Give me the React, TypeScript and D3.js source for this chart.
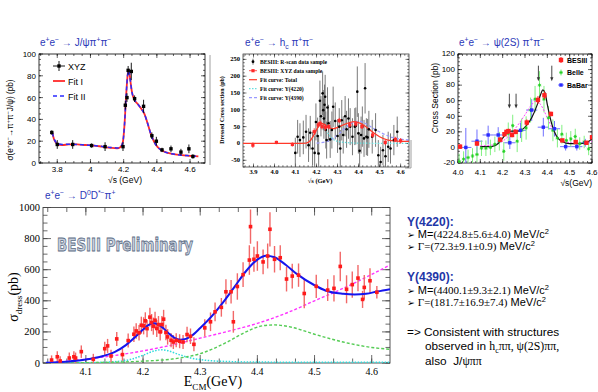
import React from "react";
import * as d3 from "d3";

const SANS = "'Liberation Sans', Arial, Helvetica, sans-serif";
const SERIF = "'Liberation Serif', 'Times New Roman', Times, serif";
const DEJA = "'DejaVu Sans', sans-serif";
const TITLE_BLUE = "#2b38b8";
const HEAD_BLUE = "#1f37a8";

// ===== Panel A: e+e- -> J/psi pi+ pi- =====
const jpsiE = [3.767, 3.800, 3.893, 4.007, 4.088, 4.196, 4.210, 4.220, 4.227, 4.246, 4.266, 4.320, 4.370, 4.397, 4.431, 4.485, 4.545, 4.593, 4.617];
const jpsiSigma = [28, 17, 17, 16, 15, 15, 53, 60, 85, 84, 59, 52, 25, 20, 12, 13, 10, 13, 6];
const jpsiErr = [2, 4, 4, 2, 4, 4, 4, 4, 4, 8, 3, 6, 3, 4, 2, 3, 3, 4, 2];
const jpsiFitE = [3.77, 3.78, 3.79, 3.80, 3.83, 3.87, 3.92, 3.97, 4.02, 4.07, 4.12, 4.16, 4.18, 4.195, 4.205, 4.215, 4.225, 4.232, 4.24, 4.25, 4.265, 4.285, 4.305, 4.325, 4.345, 4.365, 4.385, 4.405, 4.43, 4.46, 4.5, 4.55, 4.6, 4.65];
const jpsiFitI = [28, 22, 19, 17.5, 16.5, 17, 17, 16.5, 16, 15, 14, 13.5, 14.5, 19, 35, 62, 82, 85, 76, 65, 58, 54, 50, 45, 36, 26, 19, 14.5, 11.5, 9.5, 8.2, 7.2, 6.6, 6];
const jpsiFitII = [28, 22.5, 19.5, 18, 17, 17.2, 17, 16.5, 16, 15.2, 14.3, 13.8, 14.8, 19, 35, 62, 82, 85, 76, 65, 58, 54, 50, 45, 36, 26, 19, 14.5, 11.5, 9.5, 8.2, 7.2, 6.6, 6];
const jpsiXTicks = [3.8, 4.0, 4.2, 4.4, 4.6];
const jpsiXLabels = ["3.8", "4", "4.2", "4.4", "4.6"];
const jpsiYTicks = [0, 20, 40, 60, 80, 100];

// ===== Panel B: e+e- -> hc pi+ pi- =====
const hcE = [4.099, 4.110, 4.121, 4.137, 4.150, 4.162, 4.170, 4.181, 4.191, 4.197, 4.205, 4.210, 4.216, 4.221, 4.229, 4.232, 4.235, 4.238, 4.241, 4.244, 4.248, 4.252, 4.257, 4.265, 4.273, 4.279, 4.289, 4.300, 4.308, 4.313, 4.320, 4.327, 4.336, 4.343, 4.352, 4.360, 4.371, 4.382, 4.387, 4.394, 4.399, 4.405, 4.412, 4.418, 4.426, 4.431, 4.437, 4.443, 4.449, 4.465, 4.481, 4.494, 4.505, 4.516, 4.528, 4.541, 4.552, 4.568, 4.584];
const hcSigma = [-28, 20, 10, 18, 35, -5, 32, -15, -28, 64, 22, -30, 127, 81, 149, 99, 74, 115, 139, 40, 10, 107, 60, 12, 40, 109, 67, 22, 50, -15, 69, 25, 81, 42, 74, 50, 20, 50, 52, 154, 30, -22, 25, 50, 15, 164, 20, 18, 42, 20, 40, -35, -55, -20, -38, -10, -15, 10, 35];
const hcErr = [45, 50, 50, 50, 50, 50, 50, 50, 50, 55, 55, 55, 60, 60, 65, 60, 60, 60, 65, 55, 55, 60, 55, 55, 55, 60, 55, 50, 55, 55, 60, 55, 60, 55, 60, 55, 55, 55, 55, 75, 60, 55, 55, 60, 55, 75, 55, 55, 55, 50, 50, 45, 45, 45, 45, 45, 45, 45, 45];
const hcXyzE = [3.897, 4.009, 4.085, 4.189, 4.208, 4.217, 4.226, 4.242, 4.258, 4.308, 4.358, 4.387, 4.416, 4.467, 4.527, 4.575, 4.600];
const hcXyzSigma = [-5, 3, -3, 35, 55, 60, 50, 48, 50, 68, 55, 58, 50, 25, 3, 12, 8];
const hcXyzErr = [8, 5, 6, 10, 8, 8, 8, 10, 8, 8, 8, 8, 7, 8, 8, 8, 8];
const hcTotE = [3.85, 4.1, 4.15, 4.17, 4.19, 4.21, 4.225, 4.24, 4.26, 4.28, 4.3, 4.33, 4.36, 4.38, 4.4, 4.43, 4.46, 4.5, 4.54, 4.58, 4.64];
const hcTotV = [0, 0, 1, 8, 28, 52, 60, 55, 46, 44, 48, 56, 63, 65, 62, 52, 37, 20, 10, 7, 6];
const hcY1E = [4.1, 4.15, 4.18, 4.2, 4.22, 4.24, 4.26, 4.28, 4.32, 4.4, 4.64];
const hcY1V = [0, 2, 15, 40, 55, 45, 25, 12, 4, 1, 0];
const hcY2E = [4.2, 4.25, 4.3, 4.34, 4.38, 4.4, 4.43, 4.47, 4.52, 4.56, 4.6, 4.64];
const hcY2V = [1, 6, 25, 48, 64, 66, 60, 45, 28, 18, 13, 10];
const hcXTicks = [3.9, 4.0, 4.1, 4.2, 4.3, 4.4, 4.5, 4.6];
const hcXLabels = ["3.9", "4.0", "4.1", "4.2", "4.3", "4.4", "4.5", "4.6"];
const hcYTicks = [-50, 0, 50, 100, 150, 200, 250];
const hcLegend = ["BESIII: R-scan data sample", "BESIII: XYZ data sample", "Fit curve: Total", "Fit curve: Y(4220)", "Fit curve: Y(4390)"];

// ===== Panel C: e+e- -> psi(2S) pi+ pi- =====
const besE = [4.009, 4.085, 4.189, 4.208, 4.217, 4.226, 4.242, 4.258, 4.308, 4.358, 4.387, 4.416, 4.467, 4.527, 4.575, 4.600];
const besV = [1, 5, 10, 17, 20, 21, 16, 20, 32, 61, 67, 43, 9, 7, 6, 13];
const besErr = [3, 3, 3, 3, 3, 3, 3, 3, 4, 5, 5, 3, 2, 2, 2, 2];
const belleE = [4.005, 4.025, 4.045, 4.065, 4.085, 4.105, 4.125, 4.145, 4.165, 4.185, 4.205, 4.225, 4.245, 4.265, 4.285, 4.305, 4.325, 4.345, 4.365, 4.385, 4.405, 4.425, 4.445, 4.465, 4.485, 4.505, 4.525, 4.545, 4.565, 4.585];
const belleV = [-18, -15, -13, -11, -9, -1, -1, 0, 4, 8, -5, 18, 28, 8, 22, 25, 48, 62, 80, 62, 38, 22, 12, 17, 9, 11, 14, 5, 7, -2];
const belleErr = [10, 10, 10, 10, 10, 10, 10, 10, 10, 12, 12, 14, 14, 14, 15, 15, 16, 17, 18, 17, 15, 14, 12, 12, 10, 10, 10, 8, 8, 8];
const babarE = [4.035, 4.085, 4.135, 4.18, 4.232, 4.28, 4.33, 4.382, 4.432, 4.482, 4.532, 4.57];
const babarV = [0, 8, 16, 16, 6, 22, 48, 26, 24, 1, 1, 6];
const babarErr = [25, 15, 12, 10, 8, 10, 14, 12, 10, 5, 5, 5];
const babarHalfBin = [0.025, 0.025, 0.025, 0.02, 0.025, 0.025, 0.025, 0.025, 0.025, 0.025, 0.025, 0.02];
const psiFitE = [4.1, 4.15, 4.18, 4.2, 4.22, 4.24, 4.27, 4.3, 4.33, 4.355, 4.37, 4.38, 4.39, 4.4, 4.42, 4.44, 4.47, 4.5, 4.55, 4.58, 4.6];
const psiFitV = [1, 1, 5, 12, 19, 21, 21, 26, 38, 55, 68, 74, 70, 55, 30, 15, 7, 5, 5, 7, 11];
const psiFit2E = [4.1, 4.15, 4.2, 4.25, 4.3, 4.33, 4.35, 4.37, 4.4, 4.43, 4.46, 4.5, 4.55, 4.6];
const psiFit2V = [2, 3, 8, 22, 42, 55, 60, 55, 38, 20, 10, 6, 5, 8];
const psiArrowE = [4.23, 4.26, 4.36, 4.42];
const psiArrowTop = [69, 69, 105, 105];
const psiArrowBot = [50, 50, 85, 85];
const psiXTicks = [4.0, 4.1, 4.2, 4.3, 4.4, 4.5, 4.6];
const psiXLabels = ["4.0", "4.1", "4.2", "4.3", "4.4", "4.5", "4.6"];
const psiYTicks = [-20, 0, 20, 40, 60, 80, 100, 120];
const psiLegend = ["BESIII", "Belle", "BaBar"];

// ===== Panel D: e+e- -> D0 D*- pi+ =====
const dE = [4.040, 4.050, 4.055, 4.071, 4.079, 4.082, 4.092, 4.113, 4.133, 4.138, 4.144, 4.154, 4.164, 4.174, 4.184, 4.188, 4.193, 4.197, 4.201, 4.204, 4.207, 4.212, 4.215, 4.218, 4.221, 4.224, 4.227, 4.230, 4.233, 4.236, 4.240, 4.243, 4.249, 4.253, 4.258, 4.264, 4.270, 4.277, 4.283, 4.289, 4.308, 4.318, 4.326, 4.337, 4.345, 4.354, 4.358, 4.365, 4.375, 4.386, 4.388, 4.394, 4.400, 4.410, 4.418, 4.422, 4.430, 4.440, 4.451, 4.461, 4.472, 4.482, 4.503, 4.523, 4.534, 4.545, 4.556, 4.566, 4.576, 4.584, 4.587, 4.597, 4.609];
const dSigma = [19, 40, 13, 32, 40, 32, 73, 24, 92, 110, 45, 155, 54, 144, 185, 206, 194, 243, 239, 271, 221, 295, 260, 237, 275, 222, 247, 200, 247, 282, 196, 168, 146, 135, 146, 140, 135, 183, 172, 120, 226, 265, 329, 358, 458, 458, 265, 492, 568, 662, 877, 667, 688, 650, 688, 860, 667, 677, 540, 559, 565, 447, 493, 469, 480, 621, 474, 504, 546, 409, 486, 529, 455];
const dErr = [30, 35, 30, 35, 35, 35, 40, 35, 45, 45, 40, 45, 40, 45, 50, 50, 50, 55, 55, 55, 55, 60, 55, 55, 55, 55, 55, 55, 55, 60, 50, 50, 45, 45, 45, 45, 45, 50, 50, 45, 55, 60, 60, 60, 80, 75, 70, 85, 80, 95, 110, 80, 95, 80, 80, 110, 85, 80, 80, 80, 75, 95, 75, 70, 85, 95, 90, 85, 85, 55, 80, 80, 40];
const dTotE = [4.03, 4.05, 4.07, 4.1, 4.13, 4.15, 4.17, 4.19, 4.2, 4.21, 4.218, 4.225, 4.235, 4.245, 4.255, 4.265, 4.275, 4.285, 4.3, 4.32, 4.34, 4.36, 4.38, 4.4, 4.415, 4.43, 4.45, 4.47, 4.5, 4.52, 4.55, 4.57, 4.59, 4.61, 4.632];
const dTotV = [2, 5, 10, 22, 45, 70, 115, 180, 215, 245, 255, 250, 225, 190, 162, 150, 155, 175, 225, 300, 390, 490, 590, 665, 690, 680, 630, 570, 500, 465, 445, 440, 445, 460, 475];
const dBkgE = [4.03, 4.06, 4.1, 4.15, 4.2, 4.25, 4.3, 4.35, 4.4, 4.45, 4.5, 4.55, 4.6, 4.632];
const dBkgV = [0, 10, 25, 48, 78, 115, 160, 205, 255, 320, 400, 480, 570, 630];
const dY4390E = [4.03, 4.1, 4.15, 4.2, 4.25, 4.3, 4.35, 4.38, 4.41, 4.43, 4.46, 4.5, 4.55, 4.6, 4.632];
const dY4390V = [0, 2, 5, 12, 25, 60, 140, 200, 240, 245, 230, 185, 135, 100, 88];
const dY4220E = [4.03, 4.1, 4.15, 4.18, 4.2, 4.22, 4.232, 4.245, 4.26, 4.28, 4.3, 4.33, 4.4, 4.5, 4.632];
const dY4220V = [0, 2, 8, 25, 50, 78, 85, 78, 58, 35, 22, 12, 6, 5, 5];
const dXTicks = [4.1, 4.2, 4.3, 4.4, 4.5, 4.6];
const dXLabels = ["4.1", "4.2", "4.3", "4.4", "4.5", "4.6"];
const dYTicks = [0, 200, 400, 600, 800, 1000];

// ===== scales =====
const axA = d3.scaleLinear().domain([3.69, 4.69]).range([39, 205]);
const ayA = d3.scaleLinear().domain([0, 100]).range([163, 54]);
const axB = d3.scaleLinear().domain([3.85, 4.64]).range([243, 409]);
const ayB = d3.scaleLinear().domain([-70, 266]).range([167, 54]);
const axC = d3.scaleLinear().domain([4.0, 4.6]).range([458, 592]);
const ayC = d3.scaleLinear().domain([-20, 120]).range([163, 54]);
const axD = d3.scaleLinear().domain([4.025, 4.632]).range([43, 390]);
const ayD = d3.scaleLinear().domain([0, 1000]).range([363, 207.5]);

type Seg = { t: string; k?: "sup" | "sub"; f?: string; w?: string; s?: number };

function parse(str: string, f?: string): Seg[] {
  const out: Seg[] = [];
  const re = /\^\{([^}]*)\}|_\{([^}]*)\}|([^^_]+)/g;
  let m: RegExpExecArray | null;
  while ((m = re.exec(str))) {
    if (m[1] !== undefined) out.push({ t: m[1], k: "sup", f });
    else if (m[2] !== undefined) out.push({ t: m[2], k: "sub", f });
    else out.push({ t: m[3], f });
  }
  return out;
}

function Rich({ x, y, segs, size, family, fill = "#000", anchor = "start", weight = "normal", rotate }: any) {
  let cur = 0;
  const kids = segs.map((s: Seg, i: number) => {
    const target = s.k === "sup" ? -size * 0.4 : s.k === "sub" ? size * 0.28 : 0;
    const dy = target - cur;
    cur = target;
    const fs = (s.s ?? 1) * (s.k ? size * 0.68 : size);
    return (
      <tspan key={i} dy={dy} fontSize={fs} fontFamily={s.f} fontWeight={s.w}>
        {s.t}
      </tspan>
    );
  });
  const tr = rotate ? `rotate(${rotate},${x},${y})` : undefined;
  return (
    <text x={x} y={y} fontSize={size} fontFamily={family} fill={fill} textAnchor={anchor} fontWeight={weight} transform={tr} style={{ whiteSpace: "pre" }}>
      {kids}
    </text>
  );
}

function pathOf(xs: number[], ys: number[], sx: any, sy: any) {
  const gen = d3
    .line<[number, number]>()
    .x((d) => sx(d[0]))
    .y((d) => sy(d[1]))
    .curve(d3.curveMonotoneX);
  return gen(xs.map((v, i) => [v, ys[i]] as [number, number])) || "";
}

function Ticks({ sx, sy, xMaj, xMin, yMaj, yMin, lMaj, lMin, mirror = true, stroke = "#000", sw = 0.6 }: any) {
  const [xl, xr] = sx.range();
  const [yb, yt] = sy.range();
  const [a0, a1] = sx.domain();
  const [b0, b1] = sy.domain();
  const inX = (v: number) => v >= a0 - 1e-9 && v <= a1 + 1e-9;
  const inY = (v: number) => v >= b0 - 1e-9 && v <= b1 + 1e-9;
  let d = "";
  const tx = (v: number, L: number) => {
    const X = sx(v);
    d += `M${X},${yb}v${-L}`;
    if (mirror) d += `M${X},${yt}v${L}`;
  };
  const ty = (v: number, L: number) => {
    const Y = sy(v);
    d += `M${xl},${Y}h${L}`;
    if (mirror) d += `M${xr},${Y}h${-L}`;
  };
  xMin.filter(inX).forEach((v: number) => tx(v, lMin));
  xMaj.filter(inX).forEach((v: number) => tx(v, lMaj));
  yMin.filter(inY).forEach((v: number) => ty(v, lMin));
  yMaj.filter(inY).forEach((v: number) => ty(v, lMaj));
  return <path d={d} stroke={stroke} strokeWidth={sw} fill="none" />;
}

function Frame({ sx, sy, stroke = "#000", sw = 0.8 }: any) {
  const [xl, xr] = sx.range();
  const [yb, yt] = sy.range();
  return <rect x={xl} y={yt} width={xr - xl} height={yb - yt} fill="none" stroke={stroke} strokeWidth={sw} />;
}

function Clip({ id, sx, sy }: any) {
  const [xl, xr] = sx.range();
  const [yb, yt] = sy.range();
  return (
    <clipPath id={id}>
      <rect x={xl} y={yt} width={xr - xl} height={yb - yt} />
    </clipPath>
  );
}

function PanelA() {
  const sx = axA, sy = ayA;
  return (
    <g>
      <Rich x={40} y={46} size={10} family={SANS} fill={TITLE_BLUE} segs={parse("e^{+}e^{−} → J/ψπ^{+}π^{−}")} />
      <Frame sx={sx} sy={sy} />
      <Ticks sx={sx} sy={sy} xMaj={jpsiXTicks} xMin={d3.range(3.7, 4.69, 0.05)} yMaj={jpsiYTicks} yMin={d3.range(0, 101, 5)} lMaj={4} lMin={2} />
      {jpsiYTicks.map((v) => (
        <text key={v} x={36} y={sy(v) + 3} fontSize={8} fontFamily={SANS} textAnchor="end">{v}</text>
      ))}
      {jpsiXTicks.map((v, i) => (
        <text key={v} x={sx(v)} y={171.5} fontSize={8} fontFamily={SANS} textAnchor="middle">{jpsiXLabels[i]}</text>
      ))}
      <Rich x={13} y={120} rotate={-90} anchor="middle" size={8.2} family={SANS} segs={parse("σ(e^{+}e^{−}→π^{+}π^{−}J/ψ) (pb)")} />
      <text x={125} y={182.5} fontSize={8.5} fontFamily={SANS} textAnchor="middle">√s (GeV)</text>
      <g clipPath="url(#clipA)">
        <path d={pathOf(jpsiFitE, jpsiFitI, sx, sy)} stroke="#ff2a2a" strokeWidth={1.8} fill="none" />
        <path d={pathOf(jpsiFitE, jpsiFitII, sx, sy)} stroke="#2b2bff" strokeWidth={1.5} strokeDasharray="4,3" fill="none" />
      </g>
      {jpsiE.map((e, i) => (
        <g key={i}>
          <line x1={sx(e)} x2={sx(e)} y1={sy(jpsiSigma[i] - jpsiErr[i])} y2={sy(jpsiSigma[i] + jpsiErr[i])} stroke="#000" strokeWidth={0.9} />
          <rect x={sx(e) - 1.7} y={sy(jpsiSigma[i]) - 1.7} width={3.4} height={3.4} fill="#000" />
        </g>
      ))}
      {/* legend */}
      <line x1={53} x2={65} y1={66} y2={66} stroke="#000" strokeWidth={0.9} />
      <line x1={59} x2={59} y1={61} y2={71} stroke="#000" strokeWidth={0.9} />
      <rect x={57.3} y={64.3} width={3.4} height={3.4} fill="#000" />
      <text x={68} y={69.5} fontSize={9} fontFamily={SANS}>XYZ</text>
      <line x1={53} x2={65} y1={81} y2={81} stroke="#ff2a2a" strokeWidth={1.8} />
      <text x={68} y={84.5} fontSize={9} fontFamily={SANS}>Fit I</text>
      <line x1={53} x2={65} y1={96} y2={96} stroke="#2b2bff" strokeWidth={1.6} strokeDasharray="4,3" />
      <text x={68} y={99.5} fontSize={9} fontFamily={SANS}>Fit II</text>
    </g>
  );
}

function PanelB() {
  const sx = axB, sy = ayB;
  const legY = [61.7, 70.7, 79.7, 88.7, 97.7];
  return (
    <g>
      <line x1={210} x2={210} y1={55} y2={165} stroke="#888" strokeWidth={0.8} />
      <path d="M405,168H411V140" stroke="#888" strokeWidth={0.8} fill="none" />
      <Rich x={245} y={46} size={10} family={SANS} fill={TITLE_BLUE} segs={parse("e^{+}e^{−} → h_{c} π^{+}π^{−}")} />
      <Frame sx={sx} sy={sy} stroke="#222" sw={0.7} />
      <Ticks sx={sx} sy={sy} xMaj={hcXTicks} xMin={d3.range(3.86, 4.64, 0.02)} yMaj={hcYTicks} yMin={d3.range(-70, 266, 10)} lMaj={3.5} lMin={1.8} sw={0.5} />
      {hcYTicks.map((v) => (
        <text key={v} x={240} y={sy(v) + 2} fontSize={6.5} fontFamily={SERIF} fontWeight="bold" textAnchor="end">{v}</text>
      ))}
      {hcXTicks.map((v, i) => (
        <text key={v} x={sx(v)} y={174} fontSize={6.5} fontFamily={SERIF} fontWeight="bold" textAnchor="middle">{hcXLabels[i]}</text>
      ))}
      <text x={224} y={110} transform="rotate(-90,224,110)" fontSize={6} fontFamily={SERIF} fontWeight="bold" textAnchor="middle">Dressed Cross section (pb)</text>
      <text x={320} y={183} fontSize={6.5} fontFamily={SERIF} fontWeight="bold" textAnchor="middle">√s (GeV)</text>
      <g clipPath="url(#clipB)">
        {hcE.map((e, i) => (
          <line key={i} x1={sx(e)} x2={sx(e)} y1={sy(hcSigma[i] - hcErr[i])} y2={sy(hcSigma[i] + hcErr[i])} stroke="#6a6a6a" strokeWidth={0.9} />
        ))}
        <path d={pathOf(hcY2E, hcY2V, sx, sy)} stroke="#9a9aff" strokeWidth={1.3} strokeDasharray="3,2" fill="none" />
        <path d={pathOf(hcY1E, hcY1V, sx, sy)} stroke="#66dede" strokeWidth={1.2} strokeDasharray="1.5,1.5" fill="none" />
        <path d={pathOf(hcTotE, hcTotV, sx, sy)} stroke="#ff3a2a" strokeWidth={1.3} fill="none" />
        {hcE.map((e, i) => (
          <circle key={i} cx={sx(e)} cy={sy(hcSigma[i])} r={1.3} fill="#000" />
        ))}
        {hcXyzE.map((e, i) => (
          <g key={i}>
            <line x1={sx(e)} x2={sx(e)} y1={sy(hcXyzSigma[i] - hcXyzErr[i])} y2={sy(hcXyzSigma[i] + hcXyzErr[i])} stroke="#ff2a2a" strokeWidth={0.9} />
            <rect x={sx(e) - 1.6} y={sy(hcXyzSigma[i]) - 1.6} width={3.2} height={3.2} fill="#ff2a2a" />
          </g>
        ))}
      </g>
      {/* legend */}
      <line x1={253} x2={253} y1={legY[0] - 3} y2={legY[0] + 3} stroke="#444" strokeWidth={0.8} />
      <circle cx={253} cy={legY[0]} r={1.4} fill="#000" />
      <rect x={251.4} y={legY[1] - 1.6} width={3.2} height={3.2} fill="#ff2a2a" />
      <line x1={249} x2={257} y1={legY[1]} y2={legY[1]} stroke="#ff2a2a" strokeWidth={0.8} />
      <line x1={249} x2={257} y1={legY[2]} y2={legY[2]} stroke="#ff3a2a" strokeWidth={1.2} />
      <line x1={249} x2={257} y1={legY[3]} y2={legY[3]} stroke="#66dede" strokeWidth={1.2} strokeDasharray="1.5,1.5" />
      <line x1={249} x2={257} y1={legY[4]} y2={legY[4]} stroke="#9a9aff" strokeWidth={1.2} strokeDasharray="3,2" />
      {hcLegend.map((t, i) => (
        <text key={t} x={260} y={legY[i] + 2} fontSize={5.6} fontFamily={SERIF} fontWeight="bold">{t}</text>
      ))}
    </g>
  );
}

function star(cx: number, cy: number, r: number) {
  const k = r * 0.7;
  return `M${cx - r},${cy}h${2 * r}M${cx},${cy - r}v${2 * r}M${cx - k},${cy - k}l${2 * k},${2 * k}M${cx - k},${cy + k}l${2 * k},${-2 * k}`;
}

function PanelC() {
  const sx = axC, sy = ayC;
  const legY = [60, 72.5, 85];
  return (
    <g>
      <Rich x={459} y={46} size={10} family={SANS} fill={TITLE_BLUE} segs={parse("e^{+}e^{−} → ψ(2S) π^{+}π^{−}")} />
      <Frame sx={sx} sy={sy} />
      <Ticks sx={sx} sy={sy} xMaj={psiXTicks} xMin={d3.range(4.0, 4.61, 0.02)} yMaj={psiYTicks} yMin={d3.range(-20, 121, 5)} lMaj={4} lMin={2} />
      {psiYTicks.map((v) => (
        <text key={v} x={455} y={sy(v) + 2.3} fontSize={8} fontFamily={SANS} textAnchor="end">{v}</text>
      ))}
      {psiXTicks.map((v, i) => (
        <text key={v} x={sx(v)} y={174.5} fontSize={8} fontFamily={SANS} textAnchor="middle">{psiXLabels[i]}</text>
      ))}
      <text x={438} y={98} transform="rotate(-90,438,98)" fontSize={8.5} fontFamily={SANS} textAnchor="middle">Cross Section (pb)</text>
      <text x={592} y={185.5} fontSize={8.5} fontFamily={SANS} textAnchor="end">√s(GeV)</text>
      <g clipPath="url(#clipC)">
        {babarE.map((e, i) => (
          <g key={"bb" + i} stroke="#7070ff" strokeWidth={1}>
            <line x1={sx(e)} x2={sx(e)} y1={sy(babarV[i] - babarErr[i])} y2={sy(babarV[i] + babarErr[i])} />
            <line x1={sx(e - babarHalfBin[i])} x2={sx(e + babarHalfBin[i])} y1={sy(babarV[i])} y2={sy(babarV[i])} />
          </g>
        ))}
        {belleE.map((e, i) => (
          <line key={"bl" + i} x1={sx(e)} x2={sx(e)} y1={sy(belleV[i] - belleErr[i])} y2={sy(belleV[i] + belleErr[i])} stroke="#80f080" strokeWidth={1} />
        ))}
        <path d={pathOf(psiFit2E, psiFit2V, sx, sy)} stroke="#ff44ff" strokeWidth={1} strokeDasharray="2,1.5" fill="none" />
        <path d={pathOf(psiFitE, psiFitV, sx, sy)} stroke="#111" strokeWidth={1.2} fill="none" />
        {belleE.map((e, i) => (
          <path key={"bs" + i} d={star(sx(e), sy(belleV[i]), 1.7)} stroke="#22d022" strokeWidth={0.9} fill="none" />
        ))}
        {babarE.map((e, i) => (
          <rect key={"bq" + i} x={sx(e) - 1.7} y={sy(babarV[i]) - 1.7} width={3.4} height={3.4} fill="#2a2aff" />
        ))}
        {besE.map((e, i) => (
          <g key={"be" + i}>
            <line x1={sx(e)} x2={sx(e)} y1={sy(besV[i] - besErr[i])} y2={sy(besV[i] + besErr[i])} stroke="#ff2020" strokeWidth={1} />
            <rect x={sx(e) - 2.2} y={sy(besV[i]) - 2.2} width={4.4} height={4.4} fill="#ff2020" />
          </g>
        ))}
        {psiArrowE.map((e, i) => (
          <g key={"ar" + i}>
            <line x1={sx(e)} x2={sx(e)} y1={sy(psiArrowTop[i])} y2={sy(psiArrowBot[i]) - 3} stroke="#333" strokeWidth={0.9} />
            <path d={`M${sx(e) - 1.6},${sy(psiArrowBot[i]) - 4}L${sx(e) + 1.6},${sy(psiArrowBot[i]) - 4}L${sx(e)},${sy(psiArrowBot[i])}Z`} fill="#333" />
          </g>
        ))}
      </g>
      {/* legend */}
      <line x1={561} x2={561} y1={legY[0] - 3} y2={legY[0] + 3} stroke="#ff2020" strokeWidth={1} />
      <rect x={558.8} y={legY[0] - 2.2} width={4.4} height={4.4} fill="#ff2020" />
      <line x1={561} x2={561} y1={legY[1] - 3} y2={legY[1] + 3} stroke="#80f080" strokeWidth={1} />
      <path d={star(561, legY[1], 1.7)} stroke="#22d022" strokeWidth={0.9} fill="none" />
      <line x1={558} x2={564} y1={legY[2]} y2={legY[2]} stroke="#7070ff" strokeWidth={1} />
      <rect x={559.3} y={legY[2] - 1.7} width={3.4} height={3.4} fill="#2a2aff" />
      {psiLegend.map((t, i) => (
        <text key={t} x={567} y={legY[i] + 2.5} fontSize={7} fontFamily={SANS} fontWeight="bold">{t}</text>
      ))}
    </g>
  );
}

function PanelD() {
  const sx = axD, sy = ayD;
  return (
    <g>
      <Rich x={45} y={199} size={10} family={SANS} fill={TITLE_BLUE} segs={parse("e^{+}e^{−} → D^{0}D^{*−}π^{+}")} />
      <text x={57} y={251} fontSize={17} fontFamily={DEJA} fontWeight="bold" fill="#c7d0dd" stroke="#5d6c84" strokeWidth={0.8} textLength={136} lengthAdjust="spacingAndGlyphs">BESIII Preliminary</text>
      <Frame sx={sx} sy={sy} stroke="#444" sw={0.9} />
      <Ticks sx={sx} sy={sy} xMaj={dXTicks} xMin={d3.range(121, 139).map((k) => k / 30)} yMaj={dYTicks} yMin={d3.range(0, 1001, 50)} lMaj={8} lMin={4.5} stroke="#444" sw={0.8} />
      {dYTicks.map((v) => (
        <text key={v} x={40} y={sy(v) + 3.5} fontSize={10.5} fontFamily={SERIF} textAnchor="end">{v}</text>
      ))}
      {dXTicks.map((v, i) => (
        <text key={v} x={sx(v)} y={375} fontSize={10} fontFamily={SERIF} textAnchor="middle">{dXLabels[i]}</text>
      ))}
      <Rich x={18} y={297} rotate={-90} anchor="middle" size={14} family={SERIF} segs={[{ t: "σ" }, { t: "dress", k: "sub", s: 0.95 }, { t: "(pb)" }]} />
      <Rich x={213} y={386} anchor="middle" size={14} family={SERIF} segs={[{ t: "E" }, { t: "CM", k: "sub", s: 0.95 }, { t: "(GeV)" }]} />
      <g clipPath="url(#clipD)">
        <path d={pathOf(dY4220E, dY4220V, sx, sy)} stroke="#30dcdc" strokeWidth={1.5} strokeDasharray="1.5,1.5" fill="none" />
        <path d={pathOf(dY4390E, dY4390V, sx, sy)} stroke="#55cc55" strokeWidth={1.4} strokeDasharray="3,2" fill="none" />
        <path d={pathOf(dBkgE, dBkgV, sx, sy)} stroke="#ff33ff" strokeWidth={1.4} strokeDasharray="3,2" fill="none" />
        {dE.map((e, i) => (
          <line key={"e" + i} x1={sx(e)} x2={sx(e)} y1={sy(dSigma[i] - dErr[i])} y2={sy(dSigma[i] + dErr[i])} stroke="#f26868" strokeWidth={1.4} />
        ))}
        <path d={pathOf(dTotE, dTotV, sx, sy)} stroke="#1515ee" strokeWidth={2} fill="none" />
        {dE.map((e, i) => (
          <rect key={"m" + i} x={sx(e) - 1.8} y={sy(dSigma[i]) - 1.8} width={3.6} height={3.6} fill="#ff1a1a" />
        ))}
      </g>
    </g>
  );
}

function TextBlock() {
  const bullet = [{ t: "➢ ", f: DEJA, s: 0.85 }];
  return (
    <g>
      <text x={407} y={226} fontSize={12} fontFamily={SANS} fontWeight="bold" fill={HEAD_BLUE}>Y(4220):</text>
      <Rich x={407} y={238} size={11} family={SANS} segs={[...bullet, { t: "M=" }, { t: "(4224.8±5.6±4.0)", f: SERIF }, { t: " MeV/c" }, { t: "2", k: "sup" }]} />
      <Rich x={407} y={250} size={11} family={SANS} segs={[...bullet, { t: "Γ=(72.3±9.1±0.9)", f: SERIF }, { t: " MeV/c" }, { t: "2", k: "sup" }]} />
      <text x={407} y={281} fontSize={12} fontFamily={SANS} fontWeight="bold" fill={HEAD_BLUE}>Y(4390):</text>
      <Rich x={407} y={294} size={11} family={SANS} segs={[...bullet, { t: "M=" }, { t: "(4400.1±9.3±2.1)", f: SERIF }, { t: " MeV/c" }, { t: "2", k: "sup" }]} />
      <Rich x={407} y={306} size={11} family={SANS} segs={[...bullet, { t: "Γ=(181.7±16.9±7.4)", f: SERIF }, { t: " MeV/c" }, { t: "2", k: "sup" }]} />
      <text x={407} y={336} fontSize={11.8} fontFamily={SANS}>{"=> Consistent with structures"}</text>
      <Rich x={425} y={350} size={11.8} family={SANS} segs={[{ t: "observed in " }, { t: "h", f: SERIF }, { t: "c", k: "sub", f: SERIF }, { t: "ππ, ψ(2S)ππ,", f: SERIF }]} />
      <Rich x={425} y={365} size={11.8} family={SANS} segs={[{ t: "also  J/" }, { t: "ψππ", f: SERIF }]} />
    </g>
  );
}

export default function App() {
  return (
    <svg width={598} height={392} viewBox="0 0 598 392" style={{ position: "absolute", left: 0, top: 0 }}>
      <defs>
        <Clip id="clipA" sx={axA} sy={ayA} />
        <Clip id="clipB" sx={axB} sy={ayB} />
        <Clip id="clipC" sx={axC} sy={ayC} />
        <Clip id="clipD" sx={axD} sy={ayD} />
      </defs>
      <rect x={0} y={0} width={598} height={392} fill="#fff" />
      <PanelA />
      <PanelB />
      <PanelC />
      <PanelD />
      <TextBlock />
    </svg>
  );
}
